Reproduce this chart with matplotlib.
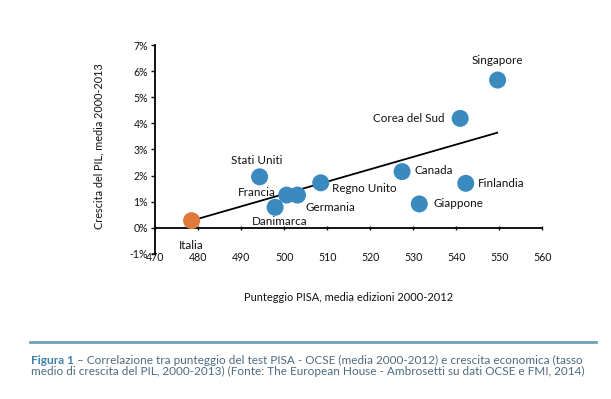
import matplotlib
matplotlib.use("Agg")
import matplotlib.pyplot as plt
from matplotlib.ticker import FuncFormatter

plt.rcParams['font.family'] = ['Lato', 'DejaVu Sans']

countries = ["Italia", "Stati Uniti", "Francia", "Germania", "Danimarca", "Regno Unito",
             "Singapore", "Corea del Sud", "Canada", "Finlandia", "Giappone"]
pisa = [478.5, 494.3, 500.6, 503.1, 497.9, 508.5, 549.6, 540.9, 527.4, 542.2, 531.4]
growth = [0.27, 1.95, 1.25, 1.25, 0.78, 1.72, 5.66, 4.19, 2.15, 1.70, 0.91]
trend_x = [478.5, 549.5]
trend_y = [0.27, 3.64]
x_ticks = [470, 480, 490, 500, 510, 520, 530, 540, 550, 560]
y_ticks = [-1, 0, 1, 2, 3, 4, 5, 6, 7]

BLUE = "#3A8AC0"
ORANGE = "#E07A3C"
TXT = "#111111"

fig = plt.figure(figsize=(6.11, 3.99), dpi=100)
ax = fig.add_axes([0.2537, 0.364, 0.634, 0.523])

ax.plot(trend_x, trend_y, color="black", lw=1.3, zorder=2)
colors = [ORANGE if c == "Italia" else BLUE for c in countries]
ax.scatter(pisa, growth, s=150, c=colors, edgecolors="none", zorder=3)

# label offsets (points) and alignment
lab = {
    "Italia": (0, -18, "center"),
    "Stati Uniti": (-2, 12, "center"),
    "Francia": (-8, 2, "right"),
    "Germania": (6, -9, "left"),
    "Danimarca": (3, -10.5, "center"),
    "Regno Unito": (8, -4, "left"),
    "Singapore": (0, 14, "center"),
    "Corea del Sud": (-11, 0, "right"),
    "Canada": (9, 1, "left"),
    "Finlandia": (9, 0, "left"),
    "Giappone": (10, 0, "left"),
}
for c, x, y in zip(countries, pisa, growth):
    dx, dy, ha = lab[c]
    ax.annotate(c, (x, y), xytext=(dx, dy), textcoords="offset points",
                ha=ha, va="center", fontsize=8.4, color=TXT, zorder=4)

ax.set_xlim(470, 560)
ax.set_ylim(-1, 7)
ax.set_xticks(x_ticks)
ax.set_yticks(y_ticks)
ax.yaxis.set_major_formatter(FuncFormatter(lambda v, p: f"{int(v)}%"))

for s in ["top", "right"]:
    ax.spines[s].set_visible(False)
ax.spines["bottom"].set_position(("data", 0))
ax.spines["bottom"].set_linewidth(1.3)
ax.spines["left"].set_linewidth(1.3)
ax.tick_params(axis="x", direction="inout", length=3, width=1, pad=16,
               labelsize=7.6, colors=TXT)
ax.tick_params(axis="y", direction="out", length=3, width=1, pad=2,
               labelsize=7.6, colors=TXT)

fig.text(0.162, 0.633, "Crescita del PIL, media 2000-2013", rotation=90,
         ha="center", va="center", fontsize=7.8, color=TXT)
fig.text(349 / 611, 1 - 297.5 / 399, "Punteggio PISA, media edizioni 2000-2012",
         ha="center", va="center", fontsize=7.9, color=TXT)

fig.add_artist(plt.Line2D([30 / 611, 596 / 611], [1 - 342 / 399, 1 - 342 / 399],
                          color="#6f9fb8", lw=2, transform=fig.transFigure))

CAP = "#4e6b80"
t1 = fig.text(31 / 611, 1 - 360 / 399, "Figura 1", fontsize=8.6, fontweight="bold",
              color="#3d82ad", va="center", ha="left")
fig.canvas.draw()
bb = t1.get_window_extent()
x1 = bb.x1 / fig.bbox.width
fig.text(x1, 1 - 360 / 399,
         " \u2013 Correlazione tra punteggio del test PISA - OCSE (media 2000-2012) e crescita economica (tasso",
         fontsize=8.5, color=CAP, va="center", ha="left")
fig.text(31 / 611, 1 - 371.5 / 399,
         "medio di crescita del PIL, 2000-2013) (Fonte: The European House - Ambrosetti su dati OCSE e FMI, 2014)",
         fontsize=8.5, color=CAP, va="center", ha="left")

fig.savefig("out.png", dpi=100)
